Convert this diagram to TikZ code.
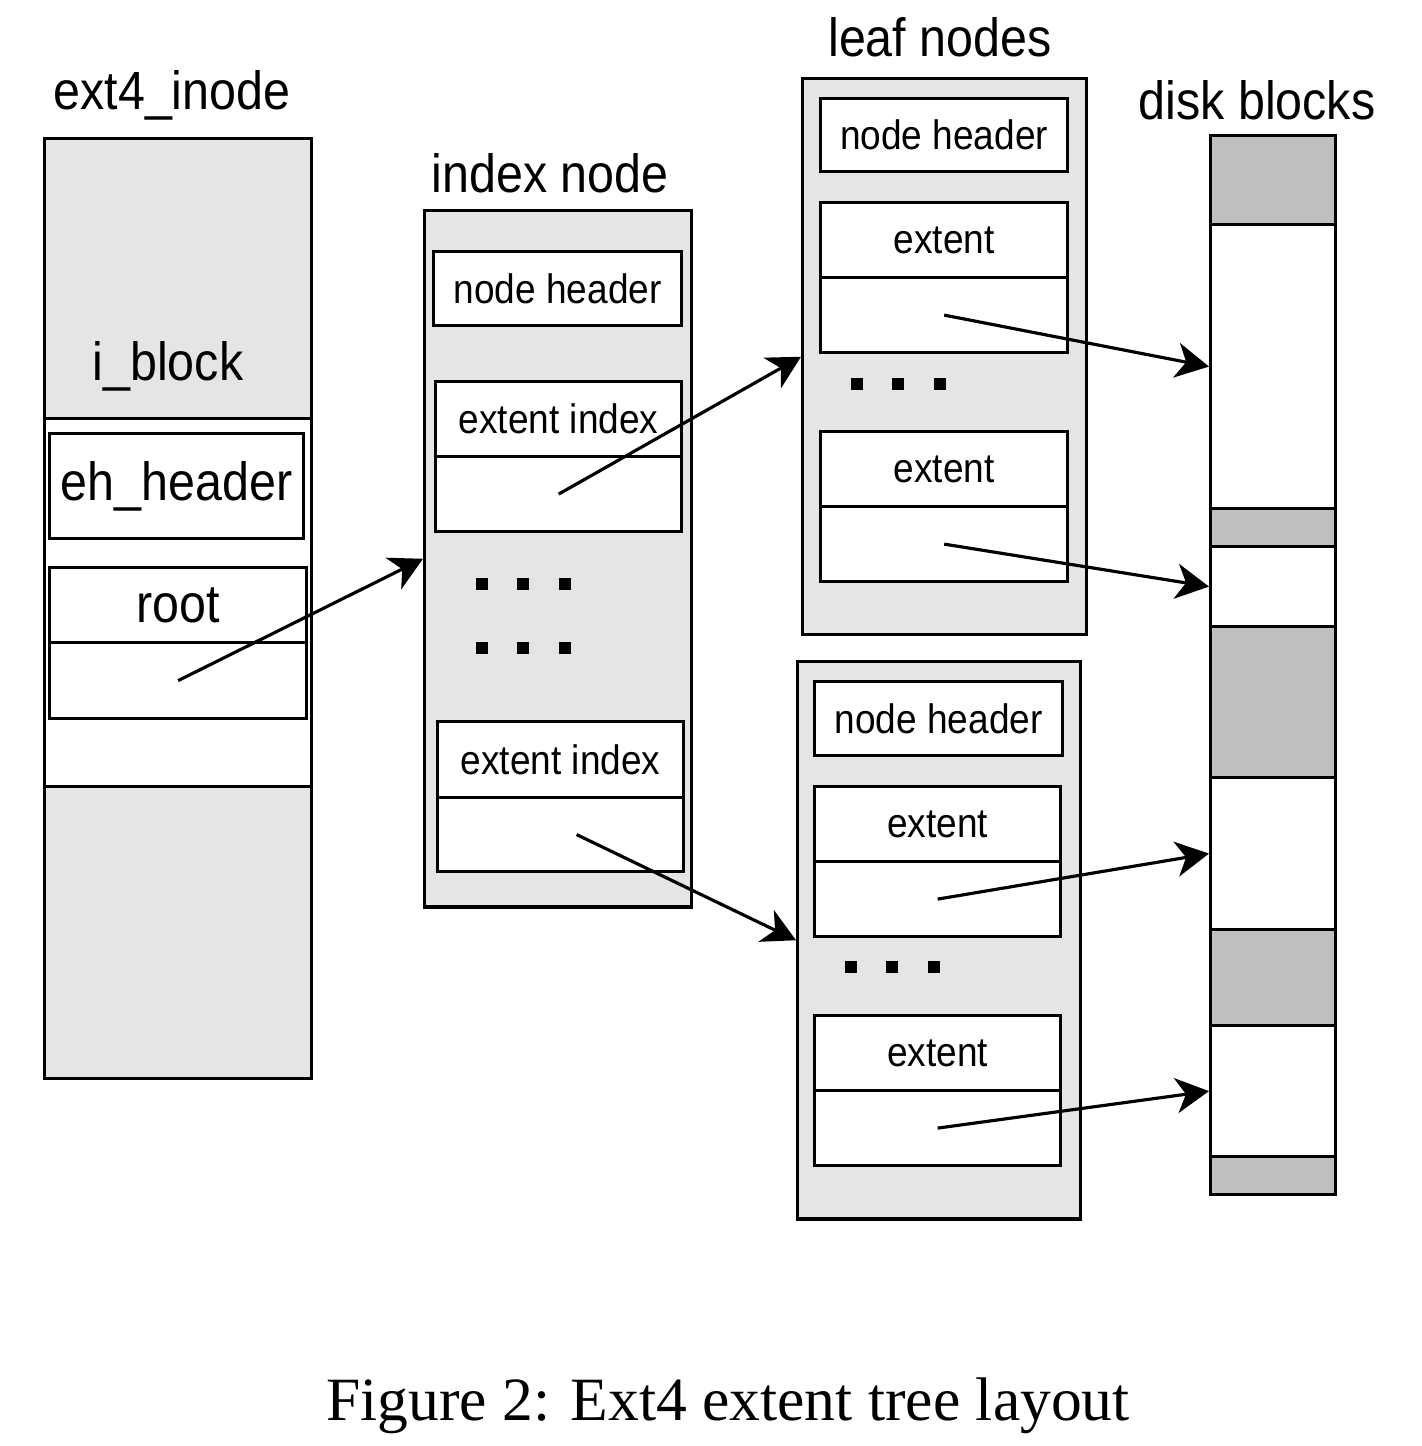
\documentclass[tikz,border=0pt]{standalone}
\usepackage{fontspec}
\setmainfont{Liberation Serif}
\newfontfamily\diagfont[FakeStretch=0.9]{Liberation Sans}
\usetikzlibrary{arrows.meta}

\definecolor{boxgray}{gray}{0.9}
\definecolor{blockgray}{gray}{0.75}

\tikzset{
	part/.style={draw, line width=0.9pt, inner sep=0pt, anchor=north west, font=\diagfont\fontsize{11.7}{14}\selectfont},
	big/.style={font=\diagfont\fontsize{15.3}{18}\selectfont},
	title/.style={anchor=base, inner sep=0pt, font=\diagfont\fontsize{15.3}{18}\selectfont},
	ptr/.style={line width=0.9pt, -{Stealth[length=9.4pt, width=10pt, inset=2.8pt]}},
}

\begin{document}
\begin{tikzpicture}[x=0.01cm, y=-0.01cm]
		\useasboundingbox (0, 0) rectangle (1422, 1446);

		% ext4_inode
		\node [title] (inodelbl) at (172, 110) {ext4\_inode};
		\node [part, fill=boxgray, minimum width=2.67cm, minimum height=2.80cm] (iblock) at (43, 137) {};
		\node [part, fill=white, minimum width=2.67cm, minimum height=3.68cm] (iarea) at (43, 417) {};
		\node [part, fill=boxgray, minimum width=2.67cm, minimum height=2.92cm] (irest) at (43, 785) {};
		\node [title] (iblocklbl) at (168, 380) {i\_block};
		\node [part, big, minimum width=2.54cm, minimum height=1.05cm] (ehdr) at (48, 432) {eh\_header};
		\node [part, big, minimum width=2.57cm, minimum height=0.75cm] (rootkey) at (48, 566) {root};
		\node [part, minimum width=2.57cm, minimum height=0.76cm] (rootval) at (48, 641) {};

		% index node
		\node [title] (idxlbl) at (550, 193) {index node};
		\node [part, fill=boxgray, minimum width=2.67cm, minimum height=6.96cm] (idx) at (423, 209) {};
		\node [part, fill=white, minimum width=2.48cm, minimum height=0.74cm] (idxhdr) at (432, 250) {node header};
		\node [part, fill=white, minimum width=2.46cm, minimum height=0.75cm] (idxkeyA) at (434, 380) {extent index};
		\node [part, fill=white, minimum width=2.46cm, minimum height=0.75cm] (idxvalA) at (434, 455) {};
		\foreach \x in {482, 523, 565} {
			\foreach \y in {584, 648} {
				\fill (\x-6, \y-6) rectangle (\x+6, \y+6);
			}
		}
		\node [part, fill=white, minimum width=2.46cm, minimum height=0.76cm] (idxkeyB) at (436, 720) {extent index};
		\node [part, fill=white, minimum width=2.46cm, minimum height=0.74cm] (idxvalB) at (436, 796) {};

		% leaf nodes
		\node [title] (leaflbl) at (940, 57) {leaf nodes};
		\node [part, fill=boxgray, minimum width=2.84cm, minimum height=5.56cm] (leafA) at (801, 77) {};
		\node [part, fill=white, minimum width=2.47cm, minimum height=0.73cm] (leafAhdr) at (819, 97) {node header};
		\node [part, fill=white, minimum width=2.47cm, minimum height=0.75cm] (leafAkeyA) at (819, 201) {extent};
		\node [part, fill=white, minimum width=2.47cm, minimum height=0.75cm] (leafAvalA) at (819, 276) {};
		\foreach \x in {857, 898, 940} {
			\fill (\x-6, 378) rectangle (\x+6, 390);
		}
		\node [part, fill=white, minimum width=2.47cm, minimum height=0.75cm] (leafAkeyB) at (819, 430) {extent};
		\node [part, fill=white, minimum width=2.47cm, minimum height=0.75cm] (leafAvalB) at (819, 505) {};

		\node [part, fill=boxgray, minimum width=2.83cm, minimum height=5.57cm] (leafB) at (796, 660) {};
		\node [part, fill=white, minimum width=2.48cm, minimum height=0.74cm] (leafBhdr) at (813, 680) {node header};
		\node [part, fill=white, minimum width=2.46cm, minimum height=0.75cm] (leafBkeyA) at (813, 785) {extent};
		\node [part, fill=white, minimum width=2.46cm, minimum height=0.75cm] (leafBvalA) at (813, 860) {};
		\foreach \x in {851, 892, 934} {
			\fill (\x-6, 961) rectangle (\x+6, 973);
		}
		\node [part, fill=white, minimum width=2.46cm, minimum height=0.75cm] (leafBkeyB) at (813, 1014) {extent};
		\node [part, fill=white, minimum width=2.46cm, minimum height=0.75cm] (leafBvalB) at (813, 1089) {};

		% disk blocks
		\node [title] (disklbl) at (1257, 120) {disk blocks};
		\foreach \t/\b/\c [count=\i] in {134/223/blockgray, 223/507/white, 507/545/blockgray, 545/625/white, 625/776/blockgray, 776/928/white, 928/1024/blockgray, 1024/1155/white, 1155/1193/blockgray} {
			\node [part, fill=\c, minimum width=1.25cm, minimum height=(\b-\t)*0.01cm] (disk\i) at (1209, \t) {};
		}

		% pointers
		\draw [ptr] (rootval.center) -- (idx.west);
		\draw [ptr] (idxvalA.center) -- (leafA.west);
		\draw [ptr] ([xshift=0.16cm]idxvalB.center) -- (leafB.west);
		\draw [ptr] (leafAvalA.center) -- (disk2.west);
		\draw [ptr] (leafAvalB.center) -- (disk4.west);
		\draw [ptr] (leafBvalA.center) -- (disk6.west);
		\draw [ptr] (leafBvalB.center) -- (disk8.west);

		\node [anchor=base, inner sep=0pt, font=\fontsize{17.5}{21}\selectfont] (caption) at (728, 1420) {Figure 2: Ext4 extent tree layout};
	\end{tikzpicture}
\end{document}
